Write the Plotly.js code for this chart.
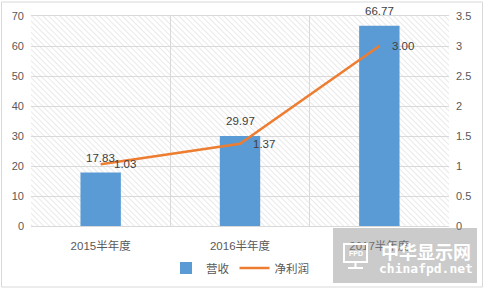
<!DOCTYPE html>
<html>
<head>
<meta charset="utf-8">
<script src="https://cdn.plot.ly/plotly-3.0.1.min.js"></script>
<style>
  html, body { margin: 0; padding: 0; background: #ffffff; }
  #chart { width: 484px; height: 289px; }
</style>
</head>
<body>
<div id="chart"></div>
<script>
// Half-year results: revenue (bars, left axis) and net profit (line, right axis)
const periods = ['2015半年度', '2016半年度', '2017半年度'];
const revenue = [17.83, 29.97, 66.77];
const netProfit = [1.03, 1.37, 3.00];
const revenueName = '营收';
const profitName = '净利润';

const leftTicks = [0, 10, 20, 30, 40, 50, 60, 70];
const rightTicks = [0, 0.5, 1, 1.5, 2, 2.5, 3, 3.5];

const W = 484, H = 289;
const M = { l: 31, r: 35, t: 16, b: 63 };
const PW = W - M.l - M.r, PH = H - M.t - M.b;
// pixel -> paper helpers for decoration placed outside the data area
const px = v => (v - M.l) / PW;
const py = v => (H - M.b - v) / PH;

const FONT = 'Liberation Sans, Noto Sans CJK SC, sans-serif';
const BLUE = '#5B9BD5';
const ORANGE = '#ED7D31';
const GRID = '#D9D9D9';

// diagonal hatch used as the plot-area fill
const hatchSvg =
  '<svg xmlns="http://www.w3.org/2000/svg" width="' + PW + '" height="' + PH + '">' +
  '<defs><pattern id="h" width="4" height="4" patternUnits="userSpaceOnUse" patternTransform="rotate(-45)">' +
  '<line x1="0" y1="0" x2="0" y2="4" stroke="#D4D4D4" stroke-width="1"/></pattern></defs>' +
  '<rect width="100%" height="100%" fill="#ffffff"/><rect width="100%" height="100%" fill="url(#h)"/></svg>';
const hatchUri = 'data:image/svg+xml;charset=utf-8,' + encodeURIComponent(hatchSvg);

const traces = [
  {
    type: 'bar',
    name: revenueName,
    x: periods,
    y: revenue,
    width: 0.29,
    marker: { color: BLUE },
    hoverinfo: 'none'
  },
  {
    type: 'scatter',
    mode: 'lines',
    name: profitName,
    x: periods,
    y: netProfit,
    yaxis: 'y2',
    line: { color: ORANGE, width: 2.5 },
    hoverinfo: 'none'
  }
];

const annotations = [];
periods.forEach((p, i) => {
  annotations.push({
    x: p, y: revenue[i], xref: 'x', yref: 'y',
    text: revenue[i].toFixed(2), showarrow: false,
    xanchor: 'center', yanchor: 'bottom', yshift: 7,
    font: { family: FONT, size: 11.5, color: '#404040' }
  });
  annotations.push({
    x: p, y: netProfit[i], xref: 'x', yref: 'y2',
    text: netProfit[i].toFixed(2), showarrow: false,
    xanchor: 'left', yanchor: 'middle', xshift: 11,
    font: { family: FONT, size: 11.5, color: '#404040' }
  });
});

// site badge in the lower right corner
annotations.push(
  { xref: 'paper', yref: 'paper', x: px(426), y: py(251), text: '<b>中华显示网</b>', showarrow: false,
    xanchor: 'center', yanchor: 'middle', font: { family: 'Noto Sans CJK SC', size: 18, color: '#ffffff' } },
  { xref: 'paper', yref: 'paper', x: px(426), y: py(268), text: '<b>chinafpd.net</b>', showarrow: false,
    xanchor: 'center', yanchor: 'middle', font: { family: 'DejaVu Sans Mono', size: 13, color: '#ffffff' } },
  { xref: 'paper', yref: 'paper', x: px(355.5), y: py(253), text: '<b>FPD</b>', showarrow: false,
    xanchor: 'center', yanchor: 'middle', font: { family: 'Liberation Sans', size: 7, color: '#ffffff' } }
);

const shapes = [
  // outer frame
  { type: 'rect', xref: 'paper', yref: 'paper', x0: px(1.5), x1: px(482.5), y0: py(287), y1: py(2),
    line: { color: GRID, width: 1 }, fillcolor: 'rgba(0,0,0,0)', layer: 'below' },
  // badge
  { type: 'rect', xref: 'paper', yref: 'paper', x0: px(333), x1: px(477), y0: py(283), y1: py(228),
    line: { width: 0 }, fillcolor: 'rgba(140,140,140,0.45)', layer: 'above' },
  { type: 'rect', xref: 'paper', yref: 'paper', x0: px(344), x1: px(367), y0: py(262), y1: py(244),
    line: { color: '#ffffff', width: 2 }, fillcolor: 'rgba(0,0,0,0)', layer: 'above' },
  { type: 'line', xref: 'paper', yref: 'paper', x0: px(355.5), x1: px(355.5), y0: py(262), y1: py(267),
    line: { color: '#ffffff', width: 2 }, layer: 'above' },
  { type: 'line', xref: 'paper', yref: 'paper', x0: px(348), x1: px(363), y0: py(268), y1: py(268),
    line: { color: '#ffffff', width: 2 }, layer: 'above' }
];

const layout = {
  width: W, height: H,
  margin: M,
  paper_bgcolor: '#ffffff',
  plot_bgcolor: 'rgba(0,0,0,0)',
  font: { family: FONT, size: 11, color: '#595959' },
  showlegend: true,
  legend: {
    orientation: 'h', xref: 'container', yref: 'container',
    x: 240 / W, xanchor: 'center', y: (H - 268) / H, yanchor: 'middle',
    font: { family: FONT, size: 11.5, color: '#595959' },
    itemwidth: 30, bgcolor: 'rgba(0,0,0,0)'
  },
  xaxis: {
    type: 'category',
    tickson: 'boundaries',
    showgrid: true, gridcolor: GRID, gridwidth: 1,
    showline: true, linecolor: GRID, mirror: true,
    ticks: '', ticklabelstandoff: 9,
    tickfont: { family: FONT, size: 11.5, color: '#595959' },
    automargin: false, fixedrange: true
  },
  yaxis: {
    range: [0, 70], tickvals: leftTicks, ticktext: leftTicks.map(String),
    showgrid: true, gridcolor: GRID, gridwidth: 1, zeroline: false,
    showline: false, ticks: '', ticklabelstandoff: 6,
    tickfont: { family: FONT, size: 11, color: '#595959' },
    automargin: false, fixedrange: true
  },
  yaxis2: {
    overlaying: 'y', side: 'right',
    range: [0, 3.5], tickvals: rightTicks, ticktext: rightTicks.map(String),
    showgrid: false, zeroline: false, showline: false,
    ticks: '', ticklabelstandoff: 6,
    tickfont: { family: FONT, size: 11, color: '#595959' },
    automargin: false, fixedrange: true
  },
  images: [{
    source: hatchUri, xref: 'paper', yref: 'paper', x: 0, y: 1, sizex: 1, sizey: 1,
    xanchor: 'left', yanchor: 'top', sizing: 'stretch', layer: 'below'
  }],
  annotations: annotations,
  shapes: shapes
};

Plotly.newPlot('chart', traces, layout, { staticPlot: true, displayModeBar: false });
</script>
</body>
</html>
